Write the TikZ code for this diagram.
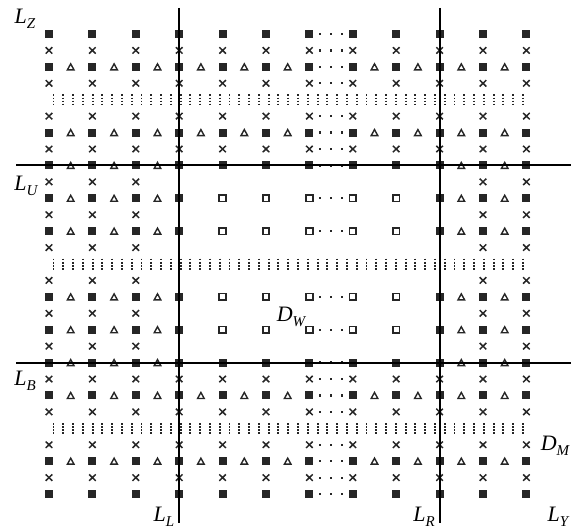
\documentclass[tikz,border=0pt]{standalone}
\usepackage{fontspec}
\setmainfont{Liberation Serif}
\definecolor{mk}{HTML}{262626}
\tikzset{
  axisline/.style={black,line width=2pt},
  lbl/.style={inner sep=0pt,font=\fontsize{22}{24}\selectfont\itshape},
  crossmk/.style={mk,line width=1.5pt},
  trimk/.style={mk,line width=1.4pt,line join=miter},
  holmk/.style={mk,line width=1.7pt},
  vdots/.style={mk,line width=1.9pt,dash pattern=on 1.7pt off 1.4pt}
}
\newcommand\mkFsq[2]{\fill[mk] ({#1-4},{#2-4}) rectangle ({#1+4},{#2+4});}
\newcommand\mkHsq[2]{\draw[holmk] ({#1-3.3},{#2-3.3}) rectangle ({#1+3.3},{#2+3.3});}
\newcommand\mkCrs[2]{\draw[crossmk] ({#1-3.3},{#2-3.2}) -- ({#1+3.3},{#2+3.2}) ({#1-3.3},{#2+3.2}) -- ({#1+3.3},{#2-3.2});}
\newcommand\mkTri[2]{\draw[trimk] ({#1-3.3},{#2+3}) -- ({#1},{#2-3}) -- ({#1+3.3},{#2+3}) -- cycle;}
\newcommand\mkDts[2]{\foreach \dd in {0.25,0.5,0.75}{\fill[mk] ({#1+43.4*\dd-1.1},{#2-1.1}) rectangle ({#1+43.4*\dd+1.1},{#2+1.1});}}
\newcommand\lsub[2]{#1\raisebox{-4.5pt}{\fontsize{15}{15}\selectfont #2}}
\begin{document}
\begin{tikzpicture}[x=1pt,y=-1pt]
\useasboundingbox (0,0) rectangle (571,529);
% full square rows (with triangles)
\foreach \k in {2,6,22,26}{
  \pgfmathsetmacro\yy{34+16.43*\k}
  \foreach \i in {0,...,11}{\pgfmathsetmacro\xx{49+43.4*\i}\mkFsq{\xx}{\yy}}
  \foreach \i in {0,1,2,3,4,5,7,8,9,10}{\pgfmathsetmacro\xx{49+43.4*\i+21.7}\mkTri{\xx}{\yy}}
  \pgfmathsetmacro\xx{49+43.4*6}\mkDts{\xx}{\yy}
}
% square rows without triangles
\foreach \k in {0,28}{
  \pgfmathsetmacro\yy{34+16.43*\k}
  \foreach \i in {0,...,11}{\pgfmathsetmacro\xx{49+43.4*\i}\mkFsq{\xx}{\yy}}
  \pgfmathsetmacro\xx{49+43.4*6}\mkDts{\xx}{\yy}
}
% rows on the horizontal lines
\foreach \k in {8,20}{
  \pgfmathsetmacro\yy{34+16.43*\k}
  \foreach \i in {0,...,11}{\pgfmathsetmacro\xx{49+43.4*\i}\mkFsq{\xx}{\yy}}
  \foreach \i in {0,1,2,9,10}{\pgfmathsetmacro\xx{49+43.4*\i+21.7}\mkTri{\xx}{\yy}}
  \pgfmathsetmacro\xx{49+43.4*6}\mkDts{\xx}{\yy}
}
% middle square rows
\foreach \k in {10,12,16,18}{
  \pgfmathsetmacro\yy{34+16.43*\k}
  \foreach \i in {0,1,2,3,9,10,11}{\pgfmathsetmacro\xx{49+43.4*\i}\mkFsq{\xx}{\yy}}
  \foreach \i in {4,...,8}{\pgfmathsetmacro\xx{49+43.4*\i}\mkHsq{\xx}{\yy}}
  \foreach \i in {0,1,2,9,10}{\pgfmathsetmacro\xx{49+43.4*\i+21.7}\mkTri{\xx}{\yy}}
  \pgfmathsetmacro\xx{49+43.4*6}\mkDts{\xx}{\yy}
}
% full cross rows
\foreach \k in {1,3,5,7,21,23,25,27}{
  \pgfmathsetmacro\yy{34+16.43*\k}
  \foreach \i in {0,...,11}{\pgfmathsetmacro\xx{49+43.4*\i}\mkCrs{\xx}{\yy}}
  \pgfmathsetmacro\xx{49+43.4*6}\mkDts{\xx}{\yy}
}
% middle cross rows
\foreach \k in {9,11,13,15,17,19}{
  \pgfmathsetmacro\yy{34+16.43*\k}
  \foreach \i in {0,1,2,10,11}{\pgfmathsetmacro\xx{49+43.4*\i}\mkCrs{\xx}{\yy}}
}
% dotted rows
\foreach \k in {4,14,24}{
  \pgfmathsetmacro\yy{34+16.43*\k}
  \foreach \j in {0,...,48}{
    \pgfmathsetmacro\xx{53.5+9.78*\j}
    \draw[vdots] (\xx,\yy-5.3) -- (\xx,\yy+5.8);
  }
}
% lines
\coordinate (LLtop) at (179.2,8);
\coordinate (LLbot) at (179.2,523);
\coordinate (LRtop) at (439.6,8);
\coordinate (LRbot) at (439.6,523);
\coordinate (LUl) at (16,165.4);
\coordinate (LUr) at (571,165.4);
\coordinate (LBl) at (16,362.6);
\coordinate (LBr) at (571,362.6);
\draw[axisline] (LLtop) -- (LLbot);
\draw[axisline] (LRtop) -- (LRbot);
\draw[axisline] (LUl) -- (LUr);
\draw[axisline] (LBl) -- (LBr);
% labels
\node[lbl] (lz) at (25,19) {\lsub{L}{Z}};
\node[lbl] (lu) at (26,186) {\lsub{L}{U}};
\node[lbl] (lb) at (25,381) {\lsub{L}{B}};
\node[lbl] (ll) at (164,517) {\lsub{L}{L}};
\node[lbl] (lr) at (424,517) {\lsub{L}{R}};
\node[lbl] (ly) at (558,517) {\lsub{L}{Y}};
\node[lbl] (dm) at (555,446) {\lsub{D}{M}};
\node[lbl] (dw) at (291,317) {\lsub{D}{W}};
\end{tikzpicture}
\end{document}
